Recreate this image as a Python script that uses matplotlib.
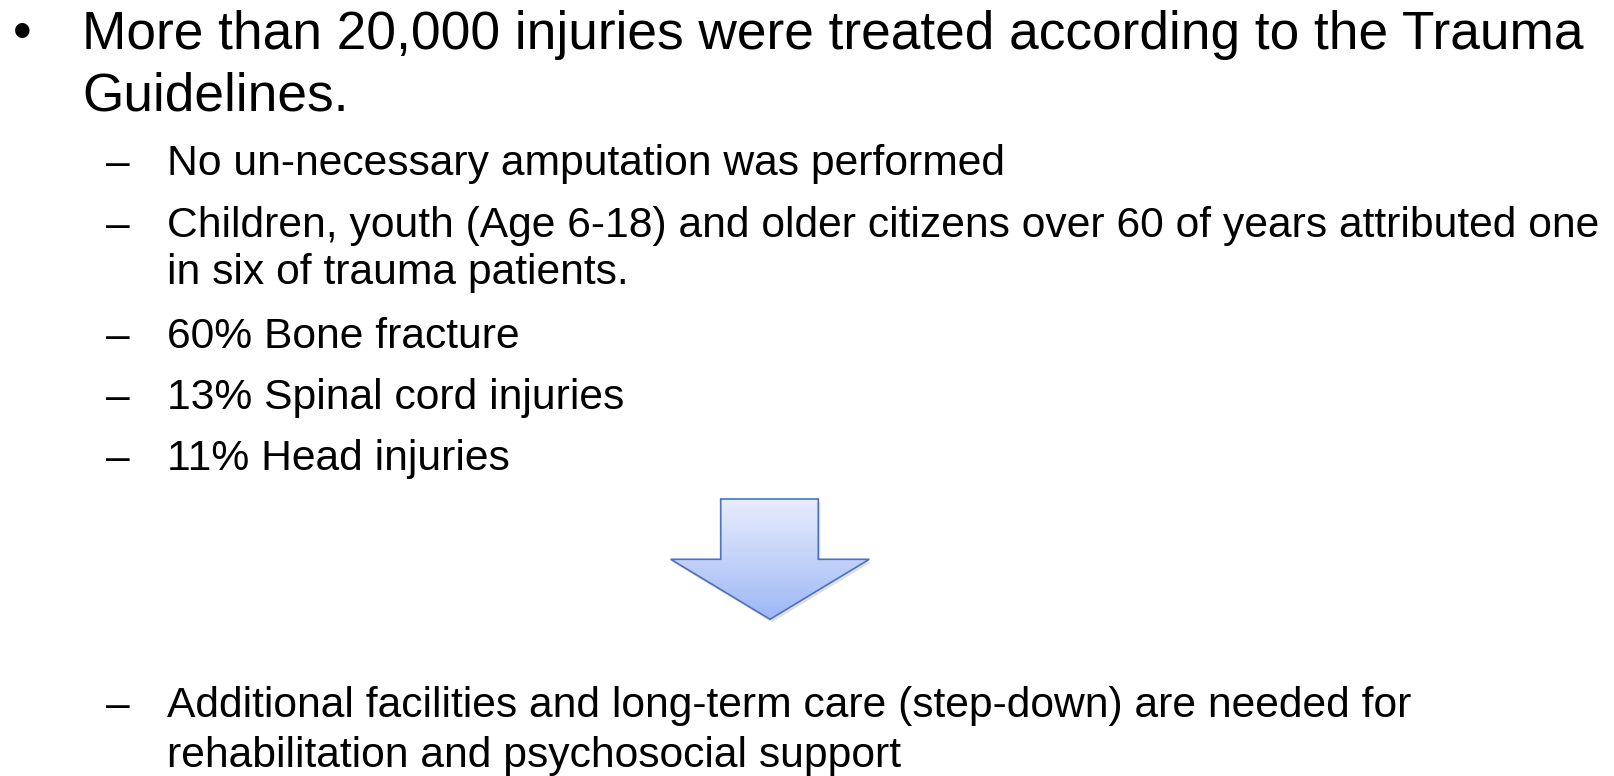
import numpy as np
import matplotlib
matplotlib.use("Agg")
import matplotlib.pyplot as plt
from matplotlib.patches import Polygon

W, H = 1614, 776
main_lines = ["More than 20,000 injuries were treated according to the Trauma",
              "Guidelines."]
sub_lines = ["No un-necessary amputation was performed",
             "Children, youth (Age 6-18) and older citizens over 60 of years attributed one",
             "in six of trauma patients.",
             "60% Bone fracture",
             "13% Spinal cord injuries",
             "11% Head injuries"]
final_lines = ["Additional facilities and long-term care (step-down) are needed for",
               "rehabilitation and psychosocial support"]

fig = plt.figure(figsize=(W / 100, H / 100), dpi=100)
ax = fig.add_axes([0, 0, 1, 1])
ax.set_xlim(0, W)
ax.set_ylim(H, 0)
ax.axis("off")

FONT = "Liberation Sans"
MAIN_FS = 38.3
SUB_FS = 30.7

# main bullet
ax.text(22.6, 49.4, "•", fontsize=MAIN_FS, family=FONT, ha="center", va="baseline")
ax.text(82.3, 49.4, main_lines[0], fontsize=MAIN_FS, family=FONT, va="baseline")
ax.text(82.3, 110.1, main_lines[1], fontsize=MAIN_FS, family=FONT, va="baseline")

sub_base = [175, 236.7, 284, 348, 408.6, 470.4]
sub_dash = [True, True, False, True, True, True]
for s, y, d in zip(sub_lines, sub_base, sub_dash):
    if d:
        ax.text(106, y, "–", fontsize=SUB_FS, family=FONT, va="baseline")
    ax.text(166.7, y, s, fontsize=SUB_FS, family=FONT, va="baseline")

ax.text(106, 717.4, "–", fontsize=SUB_FS, family=FONT, va="baseline")
ax.text(166.7, 717.4, final_lines[0], fontsize=SUB_FS, family=FONT, va="baseline")
ax.text(166.7, 766.8, final_lines[1], fontsize=SUB_FS, family=FONT, va="baseline")

# down arrow with vertical gradient
arrow = [(720.7, 499), (818.3, 499), (818.3, 559.3), (869.3, 559.3),
         (770, 619.3), (670.7, 559.3), (720.7, 559.3)]
shadow = Polygon([(x + 2, y + 3) for x, y in arrow], closed=True,
                 facecolor="#000000", alpha=0.12, edgecolor="none", zorder=1)
ax.add_patch(shadow)
poly = Polygon(arrow, closed=True, facecolor="none", edgecolor="#4a72c0", lw=1.2, zorder=3)
ax.add_patch(poly)
top = np.array([0.91, 0.93, 0.99])
bot = np.array([0.62, 0.72, 0.96])
t = np.linspace(0, 1, 256)[:, None]
grad = (top * (1 - t) + bot * t)[:, None, :]
im = ax.imshow(grad, extent=(670.7, 869.3, 619.3, 499), aspect="auto", zorder=2,
               interpolation="bilinear")
im.set_clip_path(poly)

fig.savefig("out.png", dpi=100)
